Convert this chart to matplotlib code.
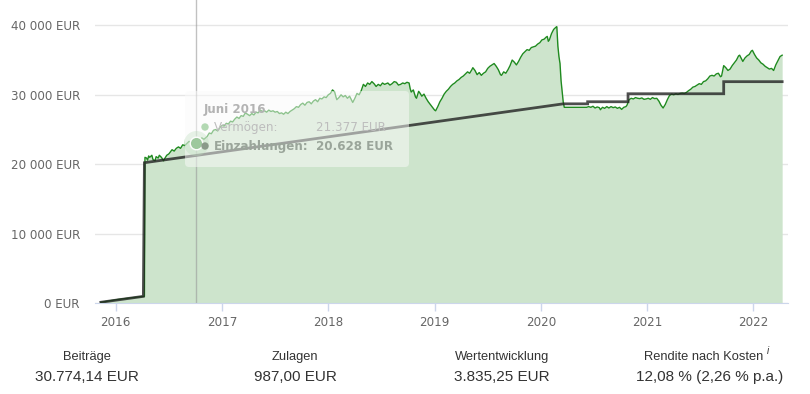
import matplotlib
matplotlib.use("Agg")
import matplotlib.pyplot as plt
from matplotlib.patches import FancyBboxPatch, Circle
import numpy as np

# Vermögen (decimal year, EUR)
verm_t = [2015.86, 2015.94, 2016.02, 2016.10, 2016.18, 2016.26, 2016.27, 2016.275,
          2016.29, 2016.30, 2016.31, 2016.32, 2016.34, 2016.35, 2016.37, 2016.38, 2016.40, 2016.41,
          2016.43, 2016.45, 2016.46, 2016.48, 2016.50, 2016.52, 2016.53, 2016.55, 2016.57, 2016.59,
          2016.61, 2016.63, 2016.65, 2016.67, 2016.69, 2016.71, 2016.73, 2016.75, 2016.77, 2016.79,
          2016.81, 2016.83, 2016.86, 2016.88, 2016.90, 2016.92, 2016.94, 2016.96, 2016.98, 2017.00,
          2017.02, 2017.04, 2017.06, 2017.08, 2017.10, 2017.12, 2017.14, 2017.16, 2017.18, 2017.20,
          2017.22, 2017.24, 2017.26, 2017.28, 2017.30, 2017.32, 2017.34, 2017.36, 2017.38, 2017.40,
          2017.42, 2017.44, 2017.46, 2017.48, 2017.50, 2017.52, 2017.54, 2017.56, 2017.58, 2017.60,
          2017.62, 2017.64, 2017.66, 2017.68, 2017.70, 2017.72, 2017.74, 2017.76, 2017.78, 2017.80,
          2017.82, 2017.84, 2017.86, 2017.88, 2017.90, 2017.92, 2017.94, 2017.96, 2017.98, 2018.00,
          2018.02, 2018.04, 2018.06, 2018.07, 2018.08, 2018.10, 2018.12, 2018.14, 2018.16, 2018.18,
          2018.20, 2018.22, 2018.23, 2018.25, 2018.27, 2018.29, 2018.31, 2018.33, 2018.35, 2018.37,
          2018.39, 2018.41, 2018.43, 2018.45, 2018.47, 2018.49, 2018.51, 2018.53, 2018.56, 2018.58,
          2018.60, 2018.62, 2018.64, 2018.66, 2018.68, 2018.70, 2018.72, 2018.74, 2018.76, 2018.77,
          2018.78, 2018.80, 2018.82, 2018.83, 2018.85, 2018.86, 2018.88, 2018.90, 2018.92, 2018.94,
          2018.96, 2018.98, 2019.00, 2019.01, 2019.03, 2019.05, 2019.07, 2019.09, 2019.11, 2019.13,
          2019.15, 2019.17, 2019.19, 2019.21, 2019.23, 2019.25, 2019.27, 2019.29, 2019.31, 2019.33,
          2019.35, 2019.36, 2019.38, 2019.40, 2019.42, 2019.44, 2019.46, 2019.48, 2019.50, 2019.52,
          2019.54, 2019.56, 2019.58, 2019.60, 2019.62, 2019.63, 2019.65, 2019.67, 2019.69, 2019.71,
          2019.73, 2019.75, 2019.77, 2019.79, 2019.81, 2019.83, 2019.85, 2019.87, 2019.89, 2019.91,
          2019.93, 2019.95, 2019.97, 2019.99, 2020.01, 2020.03, 2020.05, 2020.06, 2020.07, 2020.08,
          2020.10, 2020.12, 2020.14, 2020.15, 2020.16, 2020.17, 2020.18, 2020.19, 2020.20, 2020.21,
          2020.22, 2020.43, 2020.45, 2020.47, 2020.49, 2020.51, 2020.53, 2020.55, 2020.56, 2020.58,
          2020.60, 2020.62, 2020.64, 2020.66, 2020.68, 2020.70, 2020.72, 2020.74, 2020.76, 2020.78,
          2020.80, 2020.81, 2020.83, 2020.85, 2020.87, 2020.89, 2020.91, 2020.93, 2020.95, 2020.97,
          2020.99, 2021.01, 2021.03, 2021.05, 2021.07, 2021.09, 2021.11, 2021.13, 2021.15, 2021.17,
          2021.19, 2021.21, 2021.23, 2021.25, 2021.27, 2021.29, 2021.31, 2021.33, 2021.35, 2021.37,
          2021.39, 2021.41, 2021.43, 2021.45, 2021.47, 2021.49, 2021.51, 2021.53, 2021.55, 2021.57,
          2021.59, 2021.61, 2021.63, 2021.65, 2021.67, 2021.69, 2021.70, 2021.72, 2021.74, 2021.76,
          2021.78, 2021.80, 2021.82, 2021.84, 2021.86, 2021.87, 2021.89, 2021.90, 2021.92, 2021.94,
          2021.96, 2021.98, 2021.99, 2022.01, 2022.03, 2022.05, 2022.07, 2022.09, 2022.11, 2022.13,
          2022.15, 2022.17, 2022.19, 2022.21, 2022.23, 2022.25, 2022.27]
verm_eur = [150, 350, 550, 700, 850, 1000, 1000, 21000,
            20900, 20600, 21200, 21000, 21300, 20700, 20500, 21100, 20900, 21300,
            21000, 20500, 20800, 21300, 21500, 21900, 22100, 21900, 22300, 22500,
            22300, 22800, 22700, 23000, 23300, 23100, 23400, 23100, 22900, 23500,
            23800, 23600, 24000, 24500, 24400, 24900, 25000, 24800, 25300, 25600,
            25500, 25900, 25800, 26200, 26100, 26500, 26800, 26600, 27000, 26900,
            27400, 27200, 27000, 27300, 27100, 27500, 27400, 27800, 27600, 27700,
            27500, 27800, 27600, 27700, 27500, 27600, 27300, 27400, 27200, 27500,
            27300, 27600, 27800, 28000, 28300, 28200, 28600, 28800, 28500, 28900,
            29000, 28700, 29100, 29300, 29000, 29500, 29400, 29700, 29600, 30000,
            30200, 30700, 30400, 29800, 29300, 29600, 30000, 29700, 29900, 29500,
            29800, 29200, 28900, 29500, 30200, 30000, 30600, 31500, 31200, 31700,
            31500, 31900, 31600, 31200, 31500, 31300, 31700, 31500, 31700, 31400,
            31600, 31900, 31800, 31400, 31500, 31700, 31600, 31800, 31700, 30900,
            30400, 30700, 29700, 29500, 30500, 30300, 29800, 30100, 29500, 29000,
            28600, 28200, 27800, 27700, 28300, 29000, 29500, 30100, 30500, 30800,
            31200, 31500, 31700, 32000, 32200, 32500, 32700, 33000, 33300, 33100,
            33600, 33900, 33500, 32900, 33200, 32800, 33100, 33300, 33800, 34100,
            34300, 34500, 34100, 33600, 32900, 32800, 33300, 33100, 33600, 34200,
            35000, 34700, 34300, 34800, 35400, 35900, 36200, 36500, 36400, 36800,
            36900, 37000, 37300, 37500, 37900, 38000, 38300, 38400, 37700, 37900,
            38800, 39400, 39700, 39800, 37000, 35500, 34500, 32000, 30500, 29000,
            28200, 28200, 28300, 28200, 28350, 28100, 28250, 28150, 27850, 28200,
            28050, 28300, 28100, 28300, 28150, 28250, 28050, 28200, 27900, 28200,
            28300, 28500, 29300, 29500, 29400, 29600, 29500, 29450, 29550, 29350,
            29400, 29500, 29350, 29600, 29450, 29500, 29100, 28500, 28100, 28600,
            29300, 29900, 30100, 30000, 30150, 30050, 30200, 30250, 30200, 30350,
            30600, 30800, 31100, 31200, 31400, 31600, 31500, 31900, 32000, 32300,
            32700, 32800, 32700, 33000, 33100, 32600, 32700, 34200, 33900, 33500,
            33700, 34200, 34600, 35000, 35600, 35700, 35100, 34800, 35300, 35600,
            35800, 36300, 36400, 35800, 35300, 35000, 34600, 34400, 34100, 33900,
            33700, 33800, 33500, 34300, 34900, 35500, 35700]

# Einzahlungen (cumulative deposits), change points
einz_t = [2015.86, 2016.26, 2016.27, 2020.21, 2020.44, 2020.44, 2020.82, 2020.82,
          2021.72, 2021.72, 2022.27]
einz_eur = [150, 1000, 20230, 28700, 28700, 29000, 29000, 30150, 30150, 31890, 31890]

years = [2016, 2017, 2018, 2019, 2020, 2021, 2022]
y_ticks = [0, 10000, 20000, 30000, 40000]
y_labels = ["0 EUR", "10 000 EUR", "20 000 EUR", "30 000 EUR", "40 000 EUR"]

# hovered point and tooltip
hover_t = 2016.755
hover_eur = 23100
tip_title = "Juni 2016"
tip_rows = [("Vermögen:", "21.377 EUR"), ("Einzahlungen:", "20.628 EUR")]

# summary below the chart
summary_labels = ["Beiträge", "Zulagen", "Wertentwicklung", "Rendite nach Kosten"]
summary_values = ["30.774,14 EUR", "987,00 EUR", "3.835,25 EUR", "12,08 % (2,26 % p.a.)"]

W, H = 810, 394
fig = plt.figure(figsize=(W / 100, H / 100), dpi=100)
ax = fig.add_axes([95 / W, 1 - 303.3 / H, (788 - 95) / W, 303.3 / H])

ax.fill_between(verm_t, verm_eur, 0, color="#cde4cc", lw=0, zorder=1)
ax.plot(verm_t, verm_eur, color="#1f8a1f", lw=1, zorder=3)
ax.plot(einz_t, einz_eur, color="#222222", alpha=0.8, lw=2, zorder=4,
        solid_joinstyle="miter")

# crosshair + hover marker
ax.axvline(hover_t, color="#999999", alpha=0.6, lw=1, zorder=2)
ax.plot(hover_t, hover_eur, "o", ms=18, color="#7cbf7c", alpha=0.35, mec="none", zorder=5)
ax.plot(hover_t, hover_eur, "o", ms=9, color="#3f963f", mec="white", mew=1, zorder=6)

ax.set_xlim(2015.805, 2022.325)
ax.set_ylim(0, 303.3 / 69.5 * 10000)
ax.set_xticks(years)
ax.set_xticklabels([str(y) for y in years])
ax.set_yticks(y_ticks)
ax.set_yticklabels(y_labels)
ax.grid(axis="y", color="#e6e6e6", lw=1, zorder=0)
ax.set_axisbelow(True)
for s in ["top", "right", "left"]:
    ax.spines[s].set_visible(False)
ax.spines["bottom"].set_color("#ccd6eb")
ax.tick_params(axis="x", length=5.8, width=1, color="#ccd6eb", pad=3,
               labelsize=8.6, labelcolor="#666666")
ax.tick_params(axis="y", length=0, pad=10.8, labelsize=8.6, labelcolor="#666666")

# overlay in pixel coordinates for tooltip and summary
ov = fig.add_axes([0, 0, 1, 1])
ov.set_xlim(0, W)
ov.set_ylim(H, 0)
ov.axis("off")

box = FancyBboxPatch((187, 93), 220, 72, boxstyle="round,pad=2,rounding_size=4",
                     fc="#fbfbfb", ec="none", alpha=0.5, zorder=1)
ov.add_patch(box)
ov.text(204, 109, tip_title, fontsize=8.6, fontweight="bold", color="#b3b3b3",
        va="center", ha="left")
ov.add_patch(Circle((205, 127), 3, color="#b2d8b2", zorder=2))
ov.add_patch(Circle((205, 146), 3, color="#8a9a8a", zorder=2))
ov.text(214, 127, tip_rows[0][0], fontsize=8.6, color="#bdbdbd", va="center")
ov.text(316, 127, tip_rows[0][1], fontsize=8.6, color="#bdbdbd", va="center")
ov.text(214, 146, tip_rows[1][0], fontsize=8.6, fontweight="bold", color="#9aa59a", va="center")
ov.text(316, 146, tip_rows[1][1], fontsize=8.6, fontweight="bold", color="#9aa59a", va="center")

# summary row
label_x = [87, 295, 502, 704]
value_x = [87, 295, 502, 710]
for i in range(4):
    ov.text(label_x[i], 357, summary_labels[i], family="Liberation Sans", fontsize=9.3,
            color="#333333", ha="center", va="center")
    ov.text(value_x[i], 377, summary_values[i], family="Liberation Sans", fontsize=11,
            color="#333333", ha="center", va="center")
ov.text(768, 351, "i", family="Liberation Sans", fontsize=7, style="italic",
        color="#333333", ha="center", va="center")

fig.savefig("out.png", dpi=100)
